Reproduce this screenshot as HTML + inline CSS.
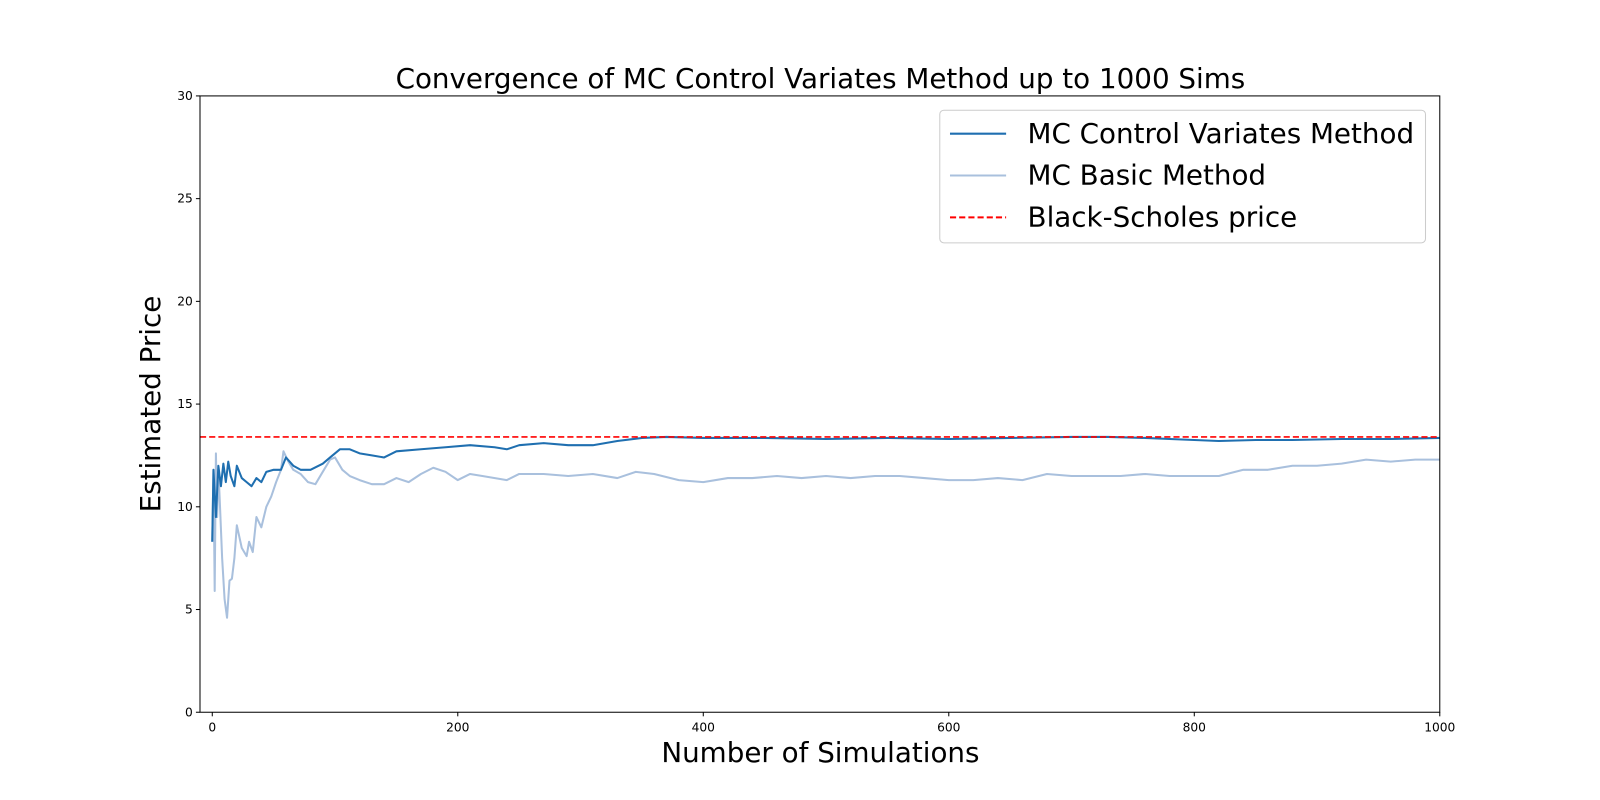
<!DOCTYPE html>
<html><head><meta charset="utf-8"><style>
body{margin:0;background:#fff;}
svg{display:block;font-family:"DejaVu Sans","Liberation Sans",sans-serif;}
</style></head><body>
<svg width="1600" height="800"><g id="chart" transform="scale(1.0204)"></g></svg>
<script>
const cvSims=[0,1,3,5,7,9,11,13,15,18,20,24,28,32,36,40,44,50,56,60,66,72,80,90,96,104,112,120,130,140,150,170,190,210,230,240,250,270,290,310,330,350,370,400,450,500,550,600,650,700,730,760,780,800,820,850,880,920,960,1000];
const cvVals=[8.3,11.8,9.5,12.0,11.0,12.1,11.2,12.2,11.5,11.0,12.0,11.4,11.2,11.0,11.4,11.2,11.7,11.8,11.8,12.4,12.0,11.8,11.8,12.1,12.4,12.8,12.8,12.6,12.5,12.4,12.7,12.8,12.9,13.0,12.9,12.8,13.0,13.1,13.0,13.0,13.2,13.35,13.4,13.35,13.35,13.3,13.35,13.3,13.35,13.4,13.4,13.35,13.3,13.25,13.2,13.25,13.25,13.3,13.3,13.35];
const basicSims=[0,1,2,3,4,5,6,8,10,12,14,16,18,20,24,28,30,33,36,40,44,48,52,56,58,62,66,72,78,84,90,96,100,106,112,120,130,140,150,160,170,180,190,200,210,220,240,250,270,290,310,330,345,360,380,400,420,440,460,480,500,520,540,560,580,600,620,640,660,680,700,720,740,760,780,800,820,840,860,880,900,920,940,960,980,1000];
const basicVals=[8.3,11.8,5.9,12.6,9.5,11.8,10.5,7.5,5.5,4.6,6.4,6.5,7.5,9.1,8.0,7.6,8.3,7.8,9.5,9.0,10.0,10.5,11.2,11.8,12.7,12.2,11.8,11.6,11.2,11.1,11.7,12.3,12.4,11.8,11.5,11.3,11.1,11.1,11.4,11.2,11.6,11.9,11.7,11.3,11.6,11.5,11.3,11.6,11.6,11.5,11.6,11.4,11.7,11.6,11.3,11.2,11.4,11.4,11.5,11.4,11.5,11.4,11.5,11.5,11.4,11.3,11.3,11.4,11.3,11.6,11.5,11.5,11.5,11.6,11.5,11.5,11.5,11.8,11.8,12.0,12.0,12.1,12.3,12.2,12.3,12.3];
const bsPrice=13.4;
const xTicks=[0,200,400,600,800,1000];
const yTicks=[0,5,10,15,20,25,30];

const L=196,R=1411,T=94,B=698,xmin=-10,xmax=1000,ymin=0,ymax=30;
const sx=v=>L+(v-xmin)/(xmax-xmin)*(R-L);
const sy=v=>B-(v-ymin)/(ymax-ymin)*(B-T);
const svg=document.getElementById('chart');
const NS='http://www.w3.org/2000/svg';
function mk(tag,attrs,parent){const e=document.createElementNS(NS,tag);for(const k in attrs)e.setAttribute(k,attrs[k]);(parent||svg).appendChild(e);return e;}
function txt(s,attrs){const e=mk('text',attrs);e.textContent=s;return e;}

let t=txt('Convergence of MC Control Variates Method up to 1000 Sims',{x:804,y:86,'text-anchor':'middle','font-size':27.2});



function path(xs,ys,color,w,name){
  const d=xs.map((x,i)=>(i?'L':'M')+sx(x).toFixed(1)+','+sy(ys[i]).toFixed(1)).join('');
  const p=mk('path',{d:d,fill:'none',stroke:color,'stroke-width':w,'stroke-linejoin':'round'});
  
  
}
path(basicSims,basicVals,'#a9c0dd',2,'basic-method-line');
path(cvSims,cvVals,'#1f6fb0',2,'control-variates-line');
const bs=mk('line',{x1:L,x2:R,y1:sy(bsPrice),y2:sy(bsPrice),stroke:'#ff0000','stroke-width':1.6,'stroke-dasharray':'6,3'});



const fr=mk('rect',{x:L,y:T,width:R-L,height:B-T,fill:'none',stroke:'#000','stroke-width':1});



xTicks.forEach(v=>{
  const l=mk('line',{x1:sx(v),x2:sx(v),y1:B,y2:B+4,stroke:'#000'});
  
  
  const e=txt(v,{x:sx(v),y:B+19,'text-anchor':'middle','font-size':12});
  
  
});
yTicks.forEach(v=>{
  const l=mk('line',{x1:L-4,x2:L,y1:sy(v),y2:sy(v),stroke:'#000'});
  
  
  const e=txt(v,{x:L-7,y:sy(v)+4,'text-anchor':'end','font-size':12});
  
  
});
t=txt('Number of Simulations',{x:804,y:747,'text-anchor':'middle','font-size':27.2});


t=txt('Estimated Price',{x:0,y:0,'text-anchor':'middle','font-size':27.2,transform:'translate(157,396) rotate(-90)'});



const lg=mk('rect',{x:921,y:108,width:476,height:130,rx:4,fill:'#fff','fill-opacity':0.8,stroke:'#ccc'});


[['MC Control Variates Method','#1f6fb0',null,131],['MC Basic Method','#a9c0dd',null,172],['Black-Scholes price','#ff0000','6,3',213]].forEach(([s,c,da,y])=>{
  const a={x1:931,x2:986,y1:y,y2:y,stroke:c,'stroke-width':2};
  if(da)a['stroke-dasharray']=da;
  const l=mk('line',a);
  
  
  const e=txt(s,{x:1007,y:y+9,'font-size':27.2});
  
  
});
</script>
</body></html>
